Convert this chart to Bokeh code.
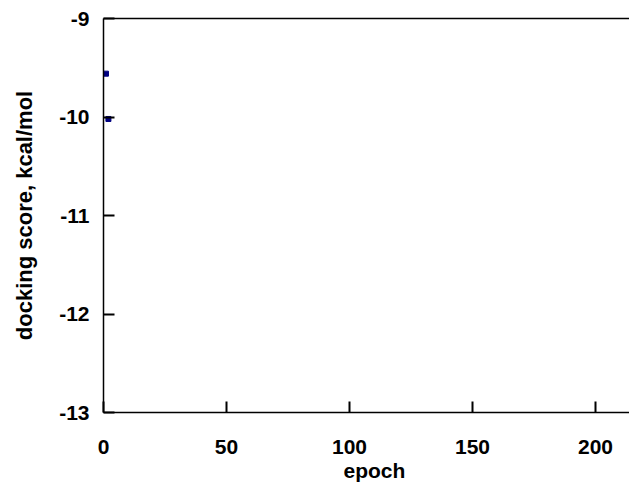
from bokeh.plotting import figure
from bokeh.models import Range1d, LinearAxis, FixedTicker, Title
from bokeh.embed import file_html
from bokeh.resources import INLINE

# data
epochs = [1, 2]
scores = [-9.56, -10.02]
x_ticks = [0, 50, 100, 150, 200]
y_ticks = [-13, -12, -11, -10, -9]
x_tick_labels = {t: str(t) for t in x_ticks}
y_tick_labels = {t: str(t) for t in y_ticks}

p = figure(width=629, height=486, output_backend="svg", toolbar_location=None,
           x_range=Range1d(0, 213.8), y_range=Range1d(-13, -9),
           min_border_left=103, min_border_right=0, min_border_top=18, min_border_bottom=74)
p.outline_line_color = None
p.grid.visible = False
p.background_fill_color = "white"
p.border_fill_color = "white"

p.scatter(epochs, scores, marker="square", size=5, color="#000080")

for ax in (p.xaxis[0], p.yaxis[0]):
    ax.axis_line_width = 1.5
    ax.axis_line_color = "black"
    ax.major_tick_line_width = 2
    ax.major_tick_line_color = "black"
    ax.major_tick_in = 11
    ax.major_tick_out = 0
    ax.minor_tick_line_color = None
    ax.major_label_text_font = "Liberation Sans"
    ax.major_label_text_font_style = "bold"
    ax.major_label_text_font_size = "21px"
    ax.major_label_text_color = "black"
    ax.axis_label_text_font = "Liberation Sans"
    ax.axis_label_text_font_style = "bold"
    ax.axis_label_text_color = "black"

p.xaxis[0].ticker = FixedTicker(ticks=x_ticks)
p.yaxis[0].ticker = FixedTicker(ticks=y_ticks)
p.xaxis[0].major_label_overrides = x_tick_labels
p.yaxis[0].major_label_overrides = y_tick_labels
p.xaxis[0].major_label_standoff = 27
p.yaxis[0].major_label_standoff = 14
p.yaxis[0].axis_label = "docking score, kcal/mol"
p.yaxis[0].axis_label_text_font_size = "22px"
p.yaxis[0].axis_label_standoff = 19

xtitle = Title(text="epoch", align="left", offset=240, standoff=0,
               text_font="Liberation Sans", text_font_style="bold", text_font_size="21px",
               text_color="black")
p.add_layout(xtitle, "below")

top = LinearAxis(ticker=FixedTicker(ticks=[]), major_label_text_font_size="0px",
                 axis_line_width=1.5, axis_line_color="black",
                 major_tick_line_color=None, minor_tick_line_color=None)
p.add_layout(top, "above")

open("out.html", "w").write(file_html(p, INLINE))
